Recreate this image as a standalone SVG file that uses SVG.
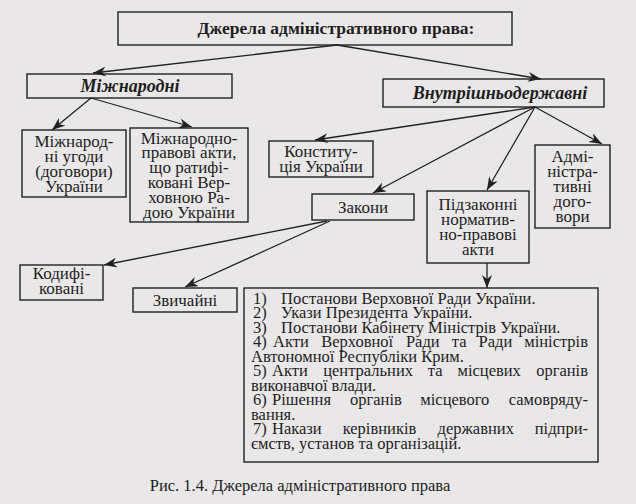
<svg xmlns="http://www.w3.org/2000/svg" width="636" height="504" viewBox="0 0 636 504">
<style>
.bg{fill:#e9e7e8}
.box{fill:none;stroke:#222;stroke-width:1.4}
.t{font-family:"Liberation Serif","Times New Roman",serif;font-size:17px;fill:#1e1e1e;text-anchor:middle}
.tb{font-family:"Liberation Serif","Times New Roman",serif;font-size:17.5px;font-weight:bold;fill:#1e1e1e;text-anchor:middle}
.ti{font-family:"Liberation Serif","Times New Roman",serif;font-size:18px;font-weight:bold;font-style:italic;fill:#1e1e1e;text-anchor:middle}
.l{font-family:"Liberation Serif","Times New Roman",serif;font-size:16.5px;fill:#1e1e1e}
.e{text-anchor:end}
.c{fill:none;stroke:#222;stroke-width:1.3;marker-end:url(#ah)}
</style>
<defs>
<marker id="ah" markerUnits="userSpaceOnUse" markerWidth="14" markerHeight="10" refX="13" refY="5" orient="auto">
<path d="M0,0 L13,5 L0,10 L4,5 Z" fill="#222"/>
</marker>
</defs>
<rect class="bg" x="0" y="0" width="636" height="504"/>

<g id="connectors">
<line class="c" x1="337" y1="45" x2="93" y2="73"/>
<line class="c" x1="337" y1="45" x2="541" y2="79"/>
<line class="c" x1="91" y1="98" x2="52" y2="130"/>
<line class="c" x1="91" y1="98" x2="192" y2="127"/>
<line class="c" x1="535" y1="107" x2="315" y2="140"/>
<line class="c" x1="535" y1="107" x2="373" y2="193"/>
<line class="c" x1="535" y1="107" x2="487" y2="190"/>
<line class="c" x1="535" y1="107" x2="602" y2="144"/>
<line class="c" x1="327" y1="221" x2="104" y2="265"/>
<line class="c" x1="330" y1="221" x2="185" y2="287"/>
<line class="c" x1="487" y1="263" x2="487" y2="288"/>
</g>

<g id="root">
<rect class="box" x="118" y="12" width="394" height="33"/>
<text class="tb" x="336" y="34">Джерела адміністративного права:</text>
</g>

<g id="mizhnarodni">
<rect class="box" x="27" y="74" width="205" height="24"/>
<text class="ti" x="130" y="91.5">Міжнародні</text>
</g>

<g id="vnutrishni">
<rect class="box" x="383" y="79" width="221" height="28"/>
<text class="ti" x="500" y="98.5">Внутрішньодержавні</text>
</g>

<g id="ugody">
<rect class="box" x="22" y="130" width="104" height="67"/>
<text class="t" x="74" y="146.5">Міжнарод-</text>
<text class="t" x="74" y="161.5">ні угоди</text>
<text class="t" x="74" y="176.5">(договори)</text>
<text class="t" x="74" y="191.5">України</text>
</g>

<g id="akty">
<rect class="box" x="130" y="128" width="118" height="94"/>
<text class="t" x="189" y="143.5">Міжнародно-</text>
<text class="t" x="189" y="158.3">правові акти,</text>
<text class="t" x="189" y="173.1">що ратифі-</text>
<text class="t" x="189" y="187.9">ковані Вер-</text>
<text class="t" x="189" y="202.7">ховною Ра-</text>
<text class="t" x="189" y="217.5">дою України</text>
</g>

<g id="konstytutsiia">
<rect class="box" x="269" y="141" width="104" height="36"/>
<text class="t" x="321" y="157">Конститу-</text>
<text class="t" x="321" y="172">ція України</text>
</g>

<g id="zakony">
<rect class="box" x="312" y="194" width="102" height="26"/>
<text class="t" x="363" y="212.5">Закони</text>
</g>

<g id="pidzakonni">
<rect class="box" x="427" y="191" width="102" height="72"/>
<text class="t" x="478" y="210">Підзаконні</text>
<text class="t" x="478" y="225">норматив-</text>
<text class="t" x="478" y="240">но-правові</text>
<text class="t" x="478" y="255">акти</text>
</g>

<g id="dogovory">
<rect class="box" x="535" y="145" width="75" height="83"/>
<text class="t" x="572.5" y="162">Адмі-</text>
<text class="t" x="572.5" y="177">ністра-</text>
<text class="t" x="572.5" y="192">тивні</text>
<text class="t" x="572.5" y="207">дого-</text>
<text class="t" x="572.5" y="222">вори</text>
</g>

<g id="kodyfikovani">
<rect class="box" x="20" y="265" width="83" height="35"/>
<text class="t" x="61.5" y="279">Кодифі-</text>
<text class="t" x="61.5" y="294">ковані</text>
</g>

<g id="zvychaini">
<rect class="box" x="133" y="288" width="104" height="24"/>
<text class="t" x="185" y="305.5">Звичайні</text>
</g>

<g id="list">
<rect class="box" x="244" y="288" width="354" height="174"/>
<text class="l" y="303.5"><tspan x="253">1)</tspan><tspan x="281">Постанови Верховної Ради України.</tspan></text>
<text class="l" y="318"><tspan x="253">2)</tspan><tspan x="281">Укази Президента України.</tspan></text>
<text class="l" y="332.5"><tspan x="253">3)</tspan><tspan x="281">Постанови Кабінету Міністрів України.</tspan></text>
<text class="l" y="347"><tspan x="253">4)</tspan><tspan x="273">Акти</tspan><tspan x="321.2">Верховної</tspan><tspan x="405.9">Ради</tspan><tspan x="451.8">та</tspan><tspan x="478.5">Ради</tspan></text>
<text class="l e" x="588" y="347">міністрів</text>
<text class="l" x="251" y="361.5">Автономної Республіки Крим.</text>
<text class="l" y="376"><tspan x="253">5)</tspan><tspan x="272">Акти</tspan><tspan x="323.2">центральних</tspan><tspan x="427.8">та</tspan><tspan x="457.5">місцевих</tspan></text>
<text class="l e" x="588" y="376">органів</text>
<text class="l" x="251" y="390.5">виконавчої влади.</text>
<text class="l" y="405"><tspan x="253">6)</tspan><tspan x="272">Рішення</tspan><tspan x="350">органів</tspan><tspan x="420.3">місцевого</tspan></text>
<text class="l e" x="588" y="405">самовряду-</text>
<text class="l" x="251" y="419.5">вання.</text>
<text class="l" y="434"><tspan x="253">7)</tspan><tspan x="272">Накази</tspan><tspan x="342.7">керівників</tspan><tspan x="437.5">державних</tspan></text>
<text class="l e" x="588" y="434">підпри-</text>
<text class="l" x="251" y="448.5">ємств, установ та організацій.</text>
</g>

<text class="l" x="300" y="491" text-anchor="middle">Рис. 1.4. Джерела адміністративного права</text>
</svg>
